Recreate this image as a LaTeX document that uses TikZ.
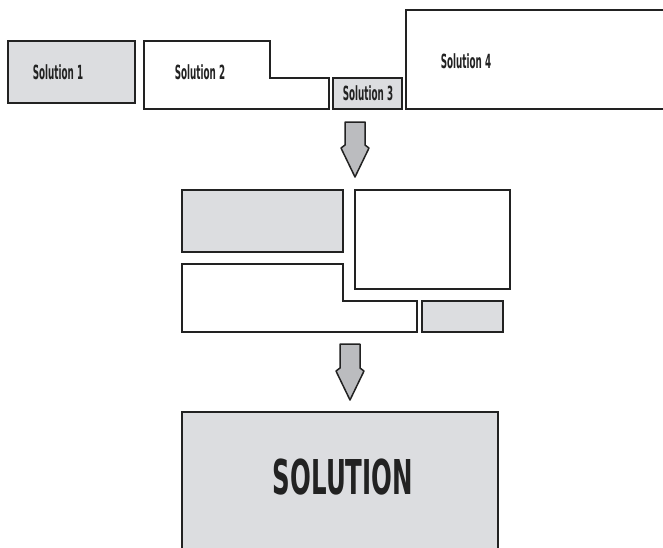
\documentclass[tikz,border=0pt]{standalone}
\usepackage{fontspec}
\newfontfamily\handfont[FakeStretch=0.45]{DejaVu Sans}
\newfontfamily\bighandfont[FakeStretch=0.51]{DejaVu Sans}
\definecolor{inkgray}{HTML}{222222}
\definecolor{boxgray}{HTML}{DCDDE0}
\definecolor{arrowgray}{HTML}{BBBCBF}

\begin{document}
\begin{tikzpicture}[
    x=1pt, y=-1pt,
    part/.style={draw=inkgray, line width=1.8pt, fill=white, line join=miter},
    shaded/.style={part, fill=boxgray},
    tag/.style={font=\handfont\bfseries\fontsize{19.5}{19.5}\selectfont, text=inkgray, inner sep=0pt},
    bigtag/.style={font=\bighandfont\bfseries\fontsize{48}{48}\selectfont, text=inkgray, inner sep=0pt},
    bigarrow/.style={draw=inkgray, line width=1.5pt, fill=arrowgray, line join=round}
]
\useasboundingbox[fill=white] (0,0) rectangle (663,547);

% Teillösungen
\draw[shaded] (8,41) rectangle (135,103);
\draw[part] (144,41) -- (270,41) -- (270,78) -- (329,78) -- (329,109) -- (144,109) -- cycle;
\draw[shaded] (333,78) rectangle (402,109);
\draw[part] (406,10) rectangle (672,109);

\node[tag] (sol1) at (58,72) {Solution 1};
\node[tag] (sol2) at (200,72) {Solution 2};
\node[tag] (sol3) at (368,93) {Solution 3};
\node[tag] (sol4) at (466,61) {Solution 4};

% Zusammensetzen
\draw[shaded] (182,190) rectangle (343,252);
\draw[part] (355,190) rectangle (510,289);
\draw[part] (182,264) -- (343,264) -- (343,301) -- (417,301) -- (417,332) -- (182,332) -- cycle;
\draw[shaded] (422,301) rectangle (503,332);

% Gesamtlösung
\draw[shaded] (182,412) rectangle (498,560);
\node[bigtag] (whole) at (343,477) {SOLUTION};

% Pfeile
\foreach \cx/\ytop/\yneck/\ytip in {355/122/148/177, 350/344/371/400}
    \draw[bigarrow] (\cx-10,\ytop) -- (\cx+10,\ytop) -- (\cx+10,\yneck-3) -- (\cx+14,\yneck)
        -- (\cx,\ytip) -- (\cx-14,\yneck) -- (\cx-10,\yneck-3) -- cycle;

\end{tikzpicture}
\end{document}
